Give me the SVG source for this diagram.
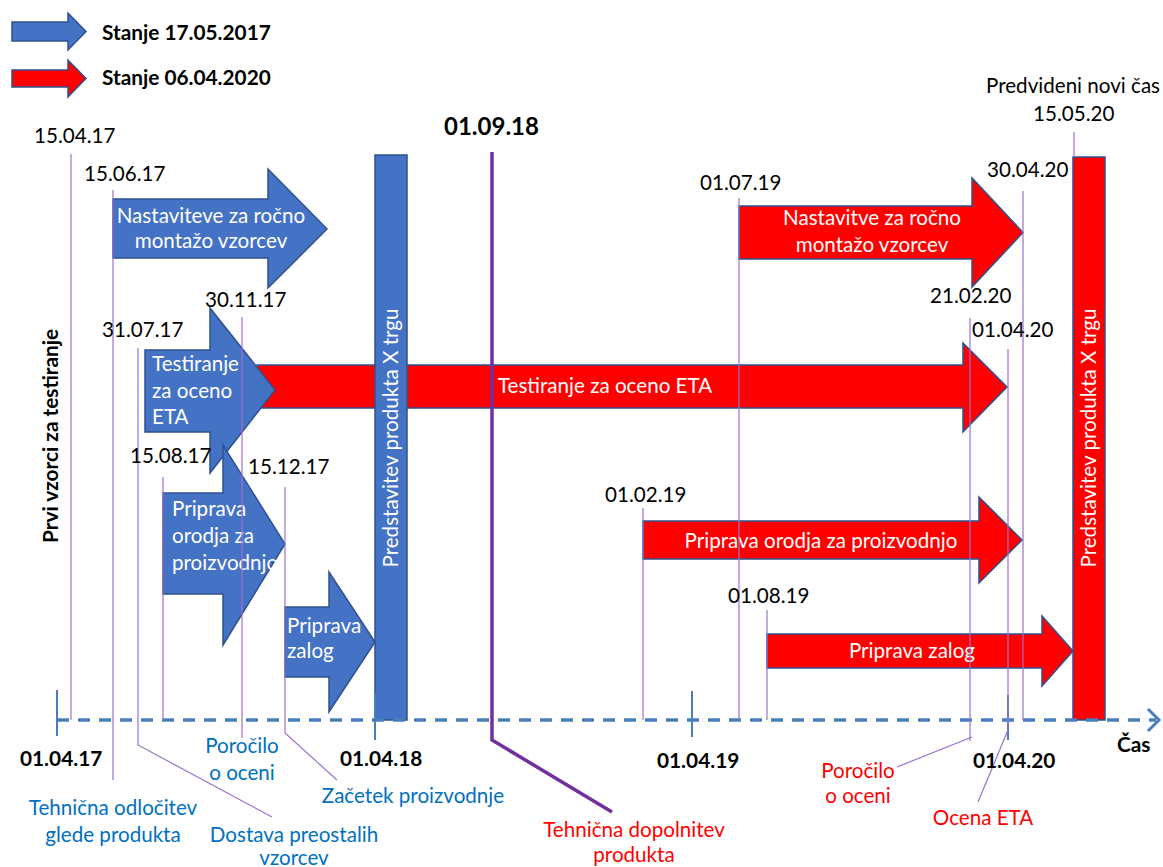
<svg xmlns="http://www.w3.org/2000/svg" width="1163" height="867" viewBox="0 0 1163 867">
<style>
.bl{fill:#4472c4;stroke:#2f528f;stroke-width:1.5}
.rd{fill:#ff0000;stroke:#2f528f;stroke-width:1.5}
.t{font-family:Lato,"Liberation Sans",sans-serif;font-size:20.6px;fill:#000}
.b{font-family:Lato,"Liberation Sans",sans-serif;font-size:20.8px;font-weight:bold;fill:#000}
.w{font-family:Lato,"Liberation Sans",sans-serif;font-size:20.6px;fill:#fff}
.lb{font-family:Lato,"Liberation Sans",sans-serif;font-size:20.6px;fill:#0070c0;text-anchor:middle}
.lr{font-family:Lato,"Liberation Sans",sans-serif;font-size:20.6px;fill:#ff0000;text-anchor:middle}
.m{text-anchor:middle}
.pl{fill:none;stroke:#9b72cf;stroke-width:1.2}
.tk{stroke:#4a7ebb;stroke-width:2}
</style>
<rect width="1163" height="867" fill="#fff"/>

<g id="legend">
<polygon class="bl" points="12,22 68,22 68,13 86,31.5 68,50 68,41 12,41"/>
<text class="b" x="102" y="40">Stanje 17.05.2017</text>
<polygon class="rd" points="12,70 68,70 68,60 86,78.5 68,97 68,87 12,87"/>
<text class="b" x="102" y="85">Stanje 06.04.2020</text>
</g>

<g id="red-testiranje">
<polygon class="rd" points="257,365 963,365 963,343 1007,387 963,432 963,408 257,408"/>
<text class="w m" x="605" y="393">Testiranje za oceno ETA</text>
</g>

<g id="blue-nastavitve">
<polygon class="bl" points="113,199 268,199 268,169 327,229 268,288 268,258 113,258"/>
<text class="w m" x="211" y="223">Nastaviteve za ročno</text>
<text class="w m" x="211" y="248">montažo vzorcev</text>
</g>

<g id="blue-testiranje">
<polygon class="bl" points="145,350 210,350 210,308 275,390 210,473 210,432 145,432"/>
<text class="w" x="152" y="371">Testiranje</text>
<text class="w" x="152" y="398">za oceno</text>
<text class="w" x="152" y="424">ETA</text>
</g>

<g id="blue-orodja">
<polygon class="bl" points="163,493 223,493 223,445 285,544 223,645 223,594 163,594"/>
<text class="w" x="172" y="516">Priprava</text>
<text class="w" x="172" y="543">orodja za</text>
<text class="w" x="172" y="570">proizvodnjo</text>
</g>

<g id="blue-zalog">
<polygon class="bl" points="285,607 329,607 329,572 375,642 329,712 329,677 285,677"/>
<text class="w" x="287" y="633">Priprava</text>
<text class="w" x="287" y="658">zalog</text>
</g>

<g id="blue-predstavitev">
<rect class="bl" x="375" y="155" width="32" height="565"/>
<text class="w m" transform="translate(398,438) rotate(-90)">Predstavitev produkta X trgu</text>
</g>

<g id="red-nastavitve">
<polygon class="rd" points="739,206 972,206 972,178 1023,232.5 972,287 972,259 739,259"/>
<text class="w m" x="872" y="225">Nastavitve za ročno</text>
<text class="w m" x="872" y="252">montažo vzorcev</text>
</g>

<g id="red-orodja">
<polygon class="rd" points="643,521 979,521 979,497 1022,540 979,583 979,559 643,559"/>
<text class="w m" x="821" y="548">Priprava orodja za proizvodnjo</text>
</g>

<g id="red-zalog">
<polygon class="rd" points="767,634 1042,634 1042,616 1073,651 1042,686 1042,668 767,668"/>
<text class="w m" x="912" y="658">Priprava zalog</text>
</g>

<g id="red-predstavitev">
<rect class="rd" x="1073" y="157" width="32" height="563"/>
<text class="w m" transform="translate(1096,438) rotate(-90)">Predstavitev produkta X trgu</text>
</g>

<g id="connectors">
<line x1="57" y1="720" x2="1156" y2="720" stroke="#4a7ebb" stroke-width="3.5" stroke-dasharray="12,9"/>
<polyline points="1148,709 1159,720 1148,731" fill="none" stroke="#4a7ebb" stroke-width="3"/>
<line class="tk" x1="57" y1="690" x2="57" y2="736"/>
<line class="tk" x1="375" y1="693" x2="375" y2="740"/>
<line class="tk" x1="692" y1="691" x2="692" y2="737"/>
<line class="tk" x1="1008" y1="695" x2="1008" y2="740"/>
<line class="pl" x1="71" y1="154" x2="71" y2="720"/>
<line class="pl" x1="113" y1="190" x2="113" y2="780"/>
<polyline class="pl" points="138,348 138,745 272,817"/>
<line class="pl" x1="163" y1="477" x2="163" y2="720"/>
<line class="pl" x1="242" y1="317" x2="242" y2="738"/>
<polyline class="pl" points="285,487 285,733 337,780"/>
<line class="pl" x1="643" y1="508" x2="643" y2="720"/>
<line class="pl" x1="739" y1="198" x2="739" y2="720"/>
<line class="pl" x1="767" y1="610" x2="767" y2="720"/>
<line class="pl" x1="970" y1="318" x2="970" y2="741"/>
<line class="pl" x1="972" y1="737" x2="897" y2="767"/>
<line class="pl" x1="1008" y1="349" x2="1008" y2="730"/>
<line class="pl" x1="1008" y1="730" x2="978" y2="802"/>
<line class="pl" x1="1023" y1="191" x2="1023" y2="720"/>
<line class="pl" x1="1074" y1="132" x2="1074" y2="157"/>
<polyline points="492,152 492,740 612,812" fill="none" stroke="#7030a0" stroke-width="3.5"/>
</g>

<g id="labels">
<text class="t" x="34" y="143">15.04.17</text>
<text class="t" x="84" y="181">15.06.17</text>
<text class="t" x="205" y="307">30.11.17</text>
<text class="t" x="102" y="337">31.07.17</text>
<text class="t" x="130" y="463">15.08.17</text>
<text class="t" x="248" y="474">15.12.17</text>
<text class="b" x="444" y="135" style="font-size:24px">01.09.18</text>
<text class="t" x="700" y="190">01.07.19</text>
<text class="t" x="605" y="502">01.02.19</text>
<text class="t" x="728" y="603">01.08.19</text>
<text class="t" x="986" y="93">Predvideni novi čas</text>
<text class="t" x="1033" y="121">15.05.20</text>
<text class="t" x="987" y="177">30.04.20</text>
<text class="t" x="930" y="303">21.02.20</text>
<text class="t" x="972" y="337">01.04.20</text>
<text class="b" transform="translate(58,436) rotate(-90)" text-anchor="middle">Prvi vzorci za testiranje</text>
<text class="b" x="20" y="766">01.04.17</text>
<text class="b" x="340" y="766">01.04.18</text>
<text class="b" x="657" y="768">01.04.19</text>
<text class="b" x="973" y="768">01.04.20</text>
<text class="b" x="1117" y="752">Čas</text>
<text class="lb" x="242" y="753">Poročilo</text>
<text class="lb" x="242" y="780">o oceni</text>
<text class="lb" x="113" y="815">Tehnična odločitev</text>
<text class="lb" x="113" y="842">glede produkta</text>
<text class="lb" x="294" y="842">Dostava preostalih</text>
<text class="lb" x="294" y="865">vzorcev</text>
<text class="lb" x="413" y="803">Začetek proizvodnje</text>
<text class="lr" x="634" y="837">Tehnična dopolnitev</text>
<text class="lr" x="634" y="862">produkta</text>
<text class="lr" x="858" y="778">Poročilo</text>
<text class="lr" x="858" y="803">o oceni</text>
<text class="lr" x="983" y="825">Ocena ETA</text>
</g>
</svg>
